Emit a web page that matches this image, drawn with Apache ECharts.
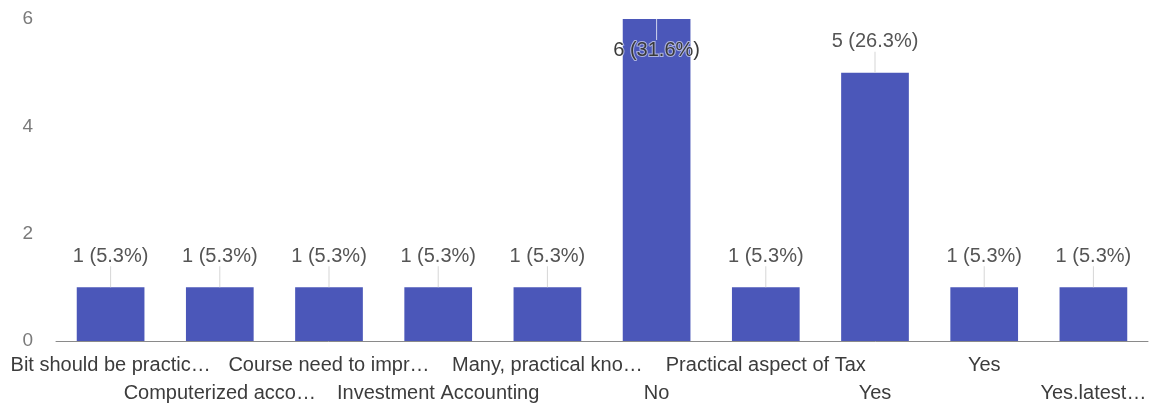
<!DOCTYPE html>
<html><head><meta charset="utf-8">
<script src="https://cdn.jsdelivr.net/npm/echarts@6/dist/echarts.min.js"></script>
<style>html,body{margin:0;padding:0;background:#fff}#c{width:1150px;height:407px}</style>
</head><body><div id="c"></div>
<script>
const categories = ["Bit should be practic…","Computerized acco…","Course need to impr…","Investment Accounting","Many, practical kno…","No","Practical aspect of Tax","Yes","Yes","Yes.latest…"];
const counts = [1,1,1,1,1,6,1,5,1,1];
const percents = ["5.3%","5.3%","5.3%","5.3%","5.3%","31.6%","5.3%","26.3%","5.3%","5.3%"];
const yTicks = [0,2,4,6];

const FONT = '"Liberation Sans", Arial, sans-serif';
const maxVal = yTicks[yTicks.length-1];
const data = counts.map((v,i)=>{
  const item = {value:v};
  if (v >= maxVal) {
    item.label = {
      position:'insideTop', distance:0,
      formatter: p => '{w|}\n{t|' + p.value + ' (' + percents[p.dataIndex] + ')}',
      rich:{
        w:{width:1,height:21,backgroundColor:'rgba(255,255,255,0.75)'},
        t:{fontSize:20,fontFamily:FONT,color:'#3a3a3a',lineHeight:20,textBorderColor:'rgba(255,255,255,0.55)',textBorderWidth:2}
      }
    };
  }
  return item;
});

const chart = echarts.init(document.getElementById('c'),null,{renderer:'canvas'});
chart.setOption({
  animation:false,
  grid:{left:56,right:2,top:19,bottom:65},
  xAxis:{
    type:'category', data:categories,
    axisLine:{show:true,lineStyle:{color:'#8a8a8a',width:1}},
    axisTick:{show:false},
    axisLabel:{
      interval:0, margin:10, color:'#3c3c3c', fontFamily:FONT, fontSize:20, lineHeight:28,
      formatter:(v,i)=> (i%2 ? '\n' : '') + v
    }
  },
  yAxis:{
    type:'value', min:0, max:maxVal, interval:2,
    splitLine:{show:false}, axisLine:{show:false}, axisTick:{show:false},
    axisLabel:{color:'#7a7a7a',fontFamily:FONT,fontSize:19,margin:23}
  },
  series:[{
    type:'bar', data:data, barWidth:'62%',
    itemStyle:{color:'#4b57b9'},
    label:{
      show:true, position:'top', distance:0,
      formatter: p => '{t|' + p.value + ' (' + percents[p.dataIndex] + ')}\n{w|}',
      rich:{
        t:{fontSize:20,fontFamily:FONT,color:'#555',lineHeight:20},
        w:{width:1,height:21,backgroundColor:'#d6d6d6'}
      }
    }
  }]
});
</script></body></html>
